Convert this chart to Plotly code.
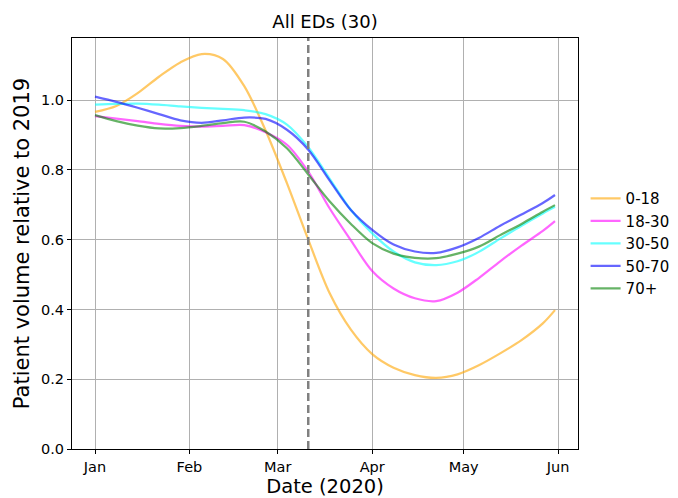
import plotly.graph_objects as go

# ---- data ----
dates = ['2020-01-01', '2020-01-08', '2020-01-15', '2020-01-22', '2020-01-29',
         '2020-02-05', '2020-02-12', '2020-02-19', '2020-02-26', '2020-03-04',
         '2020-03-11', '2020-03-18', '2020-03-25', '2020-04-01', '2020-04-08',
         '2020-04-15', '2020-04-22', '2020-04-29', '2020-05-06', '2020-05-13',
         '2020-05-20', '2020-05-27', '2020-05-31']

age_groups = ['0-18', '18-30', '30-50', '50-70', '70+']

vol_0_18 = [0.966, 0.983, 1.020, 1.067, 1.108, 1.132, 1.118, 1.040, 0.913, 0.762,
            0.600, 0.447, 0.342, 0.272, 0.233, 0.212, 0.204, 0.214, 0.240, 0.274,
            0.312, 0.360, 0.398]
vol_18_30 = [0.954, 0.947, 0.940, 0.932, 0.926, 0.924, 0.926, 0.928, 0.908, 0.872,
             0.795, 0.690, 0.598, 0.510, 0.460, 0.432, 0.424, 0.448, 0.490, 0.538,
             0.583, 0.625, 0.653]
vol_30_50 = [0.987, 0.989, 0.990, 0.987, 0.982, 0.978, 0.975, 0.971, 0.960, 0.930,
             0.865, 0.775, 0.685, 0.618, 0.566, 0.535, 0.527, 0.538, 0.565, 0.603,
             0.640, 0.675, 0.694]
vol_50_70 = [1.010, 0.995, 0.978, 0.960, 0.942, 0.935, 0.942, 0.950, 0.946, 0.915,
             0.858, 0.770, 0.685, 0.628, 0.586, 0.566, 0.562, 0.578, 0.605, 0.640,
             0.672, 0.705, 0.728]
vol_70_plus = [0.957, 0.940, 0.927, 0.919, 0.920, 0.926, 0.934, 0.938, 0.910, 0.862,
               0.787, 0.710, 0.645, 0.590, 0.560, 0.548, 0.547, 0.560, 0.580, 0.613,
               0.645, 0.680, 0.699]

month_ticks = ['2020-01-01', '2020-02-01', '2020-03-01', '2020-04-01', '2020-05-01', '2020-06-01']
month_labels = ['Jan', 'Feb', 'Mar', 'Apr', 'May', 'Jun']
y_ticks = [0.0, 0.2, 0.4, 0.6, 0.8, 1.0]
event_date = '2020-03-11'

series = [vol_0_18, vol_18_30, vol_30_50, vol_50_70, vol_70_plus]
colors = ['rgba(255,165,0,0.6)', 'rgba(255,0,255,0.6)', 'rgba(0,255,255,0.6)',
          'rgba(0,0,255,0.6)', 'rgba(0,128,0,0.6)']

FONT = 'DejaVu Sans'

fig = go.Figure()
for name, vals, col in zip(age_groups, series, colors):
    fig.add_trace(go.Scatter(
        x=dates, y=vals, mode='lines', name=name,
        line=dict(color=col, width=2.25, shape='spline', smoothing=0.9),
    ))

fig.add_shape(type='line', xref='x', yref='paper', x0=event_date, x1=event_date,
              y0=0, y1=1, line=dict(color='#808080', width=2.5, dash='8px,4px'), layer='above')

axis_common = dict(
    showgrid=True, gridcolor='#b0b0b0', gridwidth=1.2,
    ticks='outside', ticklen=4, tickwidth=1.2, tickcolor='black',
    showline=True, linecolor='black', linewidth=1.2, mirror=True,
    zeroline=False, automargin=False,
    tickfont=dict(size=14.5, color='black', family=FONT),
)

fig.update_layout(
    width=678, height=498,
    margin=dict(l=72, r=100, t=38, b=49, autoexpand=False),
    paper_bgcolor='white', plot_bgcolor='white',
    font=dict(family=FONT, color='black'),
    title=dict(text='All EDs (30)', x=0.5, xref='paper', xanchor='center',
               y=1 - 22 / 498, yanchor='middle', font=dict(size=18, color='black')),
    xaxis=dict(type='date', range=['2019-12-24 10:48', '2020-06-07 13:12'],
               tickmode='array', tickvals=month_ticks, ticktext=month_labels,
               title=dict(text='Date (2020)', font=dict(size=19.5), standoff=6),
               **axis_common),
    yaxis=dict(range=[0, 1.178], tickmode='array', tickvals=y_ticks, tickformat='.1f',
               title=dict(text='Patient volume relative to 2019', font=dict(size=21), standoff=5),
               **axis_common),
    legend=dict(x=1.015, xanchor='left', y=0.5, yanchor='middle',
                font=dict(size=15, color='black'), bgcolor='rgba(0,0,0,0)'),
    showlegend=True,
)

fig.write_html('out.html', config={'displayModeBar': False},
               post_script="document.body.style.margin='0px';")
